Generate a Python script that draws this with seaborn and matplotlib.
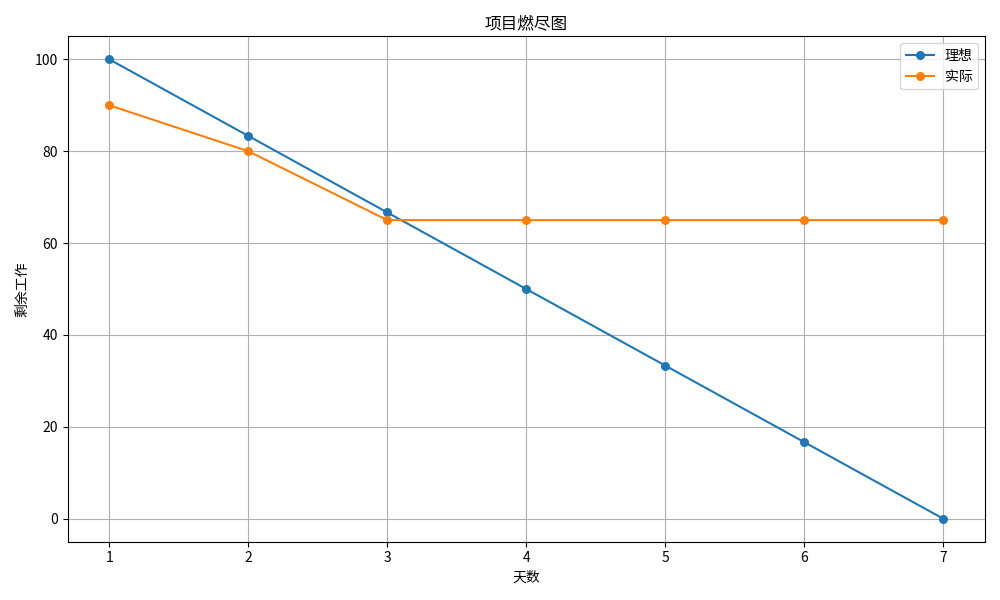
import pandas as pd
import matplotlib
matplotlib.use('Agg')
import matplotlib.pyplot as plt
import seaborn as sns

# data
days = [1, 2, 3, 4, 5, 6, 7]
ideal = [100, 83.33, 66.67, 50, 33.33, 16.67, 0]
actual = [90, 80, 65, 65, 65, 65, 65]

plt.rcParams['font.family'] = ['Noto Sans CJK SC', 'DejaVu Sans']
plt.rcParams['axes.unicode_minus'] = False

df = pd.DataFrame({'天数': days, '理想': ideal, '实际': actual})

fig, ax = plt.subplots(figsize=(10, 6), dpi=100)
sns.lineplot(data=df, x='天数', y='理想', label='理想', marker='o', markersize=6.5,
             markeredgewidth=0, color='#1f77b4', ax=ax)
sns.lineplot(data=df, x='天数', y='实际', label='实际', marker='o', markersize=6.5,
             markeredgewidth=0, color='#ff7f0e', ax=ax)

ax.set_title('项目燃尽图')
ax.set_xlabel('天数')
ax.set_ylabel('剩余工作')
ax.set_xticks(days)
ax.grid(True)
ax.legend(loc='upper right')

plt.tight_layout()
plt.savefig('out.png')
